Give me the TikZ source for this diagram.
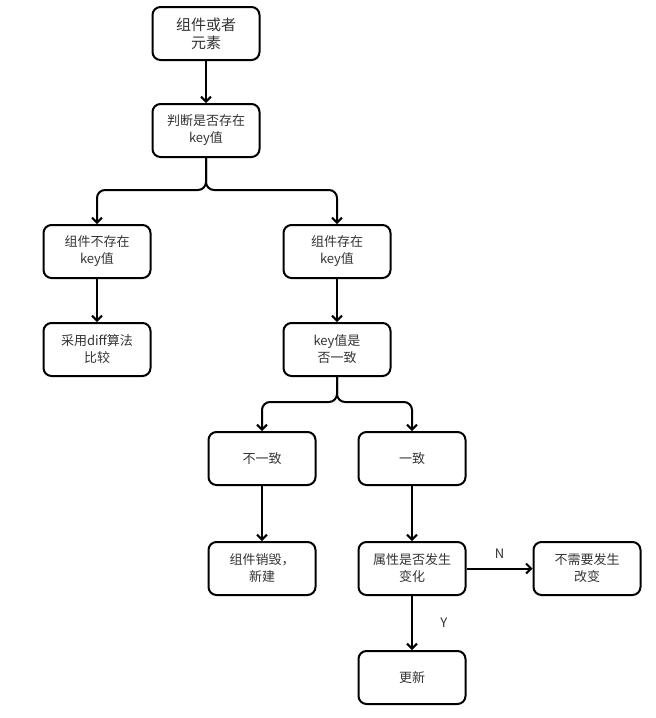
\documentclass[tikz,border=0pt]{standalone}
\usepackage{fontspec}
\setmainfont{Noto Sans CJK SC}
\usetikzlibrary{arrows.meta, positioning}

\begin{document}
\begin{tikzpicture}[
  x=1pt, y=1pt,
  node distance=40pt,
  box/.style={draw, line width=2pt, rectangle, rounded corners=8pt, align=center,
    minimum width=107pt, minimum height=53pt, font=\fontsize{13}{17}\selectfont, text=black!80},
  arrow/.style={-{Straight Barb[length=5pt,width=10pt]}, line width=2pt},
  lbl/.style={font=\fontsize{13}{15}\selectfont, text=black!80}
]
\useasboundingbox (0,0) rectangle (656,-718);

\node[box, font=\fontsize{15}{18}\selectfont] (start) at (206,-33.5) {组件或者\\元素};
\node[box] (judge)   [below=42pt of start]                 {判断是否存在\\key值};
\node[box] (noexist) [below left=66pt and 0pt of judge]    {组件不存在\\key值};
\node[box] (exist)   [below right=66pt and 22pt of judge]  {组件存在\\key值};
\node[box] (diff)    [below=43pt of noexist]               {采用diff算法\\比较};
\node[box] (keyeq)   [below=43pt of exist]                 {key值是\\否一致};
\node[box] (neq)     [below=54pt of keyeq, xshift=-75pt]   {不一致};
\node[box] (eq)      [below=54pt of keyeq, xshift=75pt]    {一致};
\node[box] (rebuild) [below=55pt of neq]                   {组件销毁，\\新建};
\node[box] (attr)    [below=55pt of eq]                    {属性是否发生\\变化};
\node[box] (keep)    [right=66pt of attr]                  {不需要发生\\改变};
\node[box] (update)  [below=54pt of attr]                  {更新};

\draw[arrow] (start.south) -- (judge.north);
\draw[arrow, rounded corners=8pt] (judge.south) -- ++(0,-32) -| (noexist.north);
\draw[arrow, rounded corners=8pt] (judge.south) -- ++(0,-32) -| (exist.north);
\draw[arrow] (noexist) -- (diff);
\draw[arrow] (exist) -- (keyeq);
\draw[arrow, rounded corners=8pt] (keyeq.south) -- ++(0,-25) -| (neq.north);
\draw[arrow, rounded corners=8pt] (keyeq.south) -- ++(0,-25) -| (eq.north);
\draw[arrow] (neq) -- (rebuild);
\draw[arrow] (eq) -- (attr);
\draw[arrow] (attr) -- node[lbl, above=6pt]{N} (keep);
\draw[arrow] (attr) -- node[lbl, right=24pt]{Y} (update);
\end{tikzpicture}
\end{document}
